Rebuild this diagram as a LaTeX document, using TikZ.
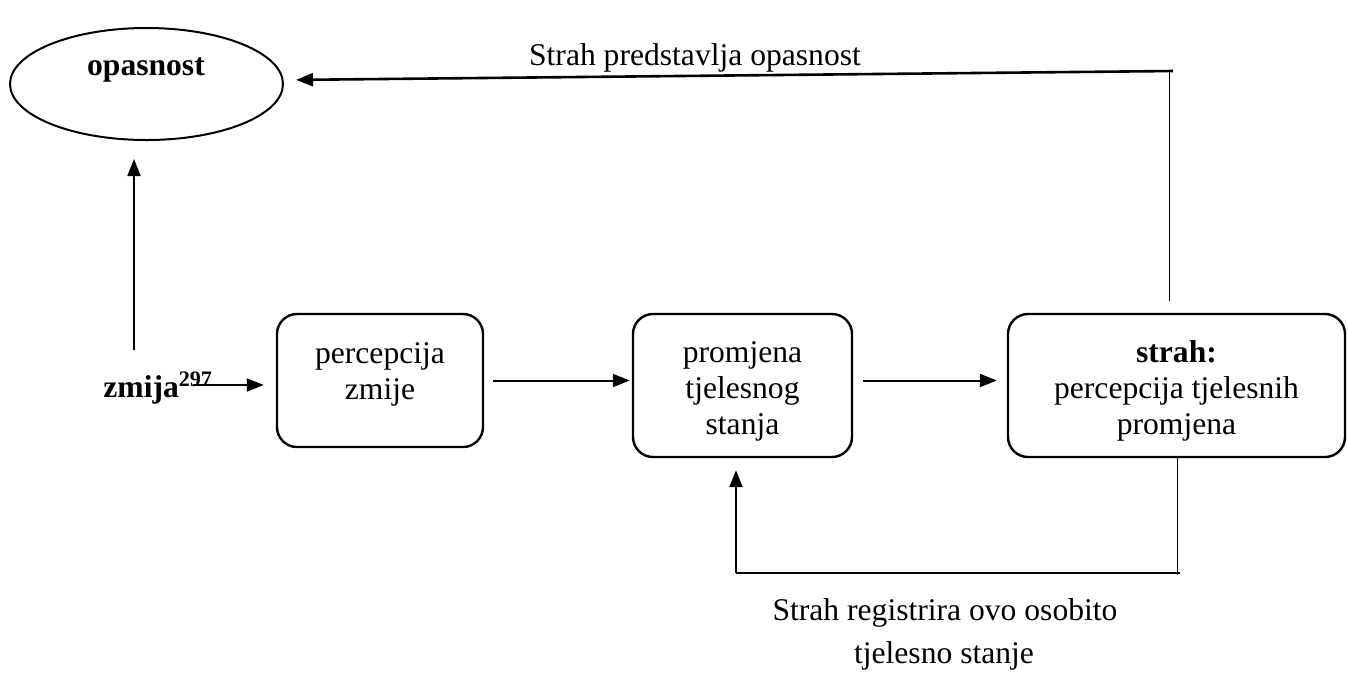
\documentclass[tikz,border=0pt]{standalone}
\usepackage{fontspec}
\setmainfont{Liberation Serif}
\usetikzlibrary{arrows.meta, shapes, positioning}

\begin{document}
\begin{tikzpicture}[x=0.5pt, y=-0.5pt,
        stage/.style={rectangle, rounded corners=10pt, draw, line width=1.2pt, inner sep=0pt},
        danger/.style={ellipse, draw, line width=1pt, minimum width=136.5pt, minimum height=56pt, inner sep=0pt},
        txt/.style={align=center, inner sep=0pt, font=\fontsize{15.8}{18}\selectfont},
        bold/.style={txt, font=\fontsize{15.8}{18}\selectfont\bfseries},
        arr/.style={-{Triangle[length=8.5pt, width=6.5pt]}, line width=1pt},
        fb/.style={line width=0.5pt}]
        \useasboundingbox (0,0) rectangle (1348,682);
        % \draw[help lines] (0,0) grid (1348,682);
        \node[danger] (opasnost) at (146.5,84) {};
        \node[bold, anchor=base] (opasnostlbl) at (146,75) {opasnost};
        \node[bold, anchor=base west] (zmija) at (103,397) {zmija\textsuperscript{297}};

        \node[stage, minimum width=103pt, minimum height=66.5pt] (p1) at (380,380.5) {};
        \node[txt] (p1txt) at ([yshift=3pt]p1.center) {percepcija\\zmije};
        \node[stage, minimum width=109.5pt, minimum height=71.5pt] (p2) at (742.5,385.5) {};
        \node[txt] (p2txt) at ([yshift=-3pt]p2.center) {promjena\\tjelesnog\\stanja};
        \node[stage, minimum width=168.5pt, minimum height=71.5pt] (p3) at (1176.5,385.5) {};
        \node[txt] (p3txt) at ([yshift=-2.8pt]p3.center) {\textbf{strah:}\\percepcija tjelesnih\\promjena};

        \node[txt, anchor=base] (toplbl) at (695,65) {Strah predstavlja opasnost};
        \node[txt, anchor=base] (reg1) at (945,620) {Strah registrira ovo osobito};
        \node[txt, anchor=base] (reg2) at (944,663) {tjelesno stanje};

        \coordinate (zb) at (134,350);
        \coordinate (za) at (193,385);
        \coordinate (t2) at (1169,71);
        \coordinate (b1) at (1177,573);
        \coordinate (b2) at (736,573);

        \draw[arr, shorten >=9pt] (zb) -- (zb |- opasnost.south);
        \draw[arr, shorten >=6pt] (za) -- (za -| p1.west);
        \draw[arr, shorten <=4.5pt, shorten >=1pt] (p1) -- (p1 -| p2.west);
        \draw[arr, shorten <=5pt, shorten >=5pt] (p2.east |- p1) -- (p3.west |- p1);

        % feedback loops
        \draw[fb, shorten <=6pt] (t2 |- p3.north) -- (t2);
        \draw[arr, line width=1.3pt, shorten >=6pt] ([xshift=2pt]t2) -- ([yshift=2pt]opasnost.east);
        \draw[fb] (p3.south -| b1) -- ([yshift=-1pt]b1);
        \draw[fb, line width=0.7pt] ([xshift=1.5pt]b1) -- (b2);
        \draw[arr, shorten >=6pt] (b2) -- (b2 |- p2.south);
    \end{tikzpicture}
\end{document}
